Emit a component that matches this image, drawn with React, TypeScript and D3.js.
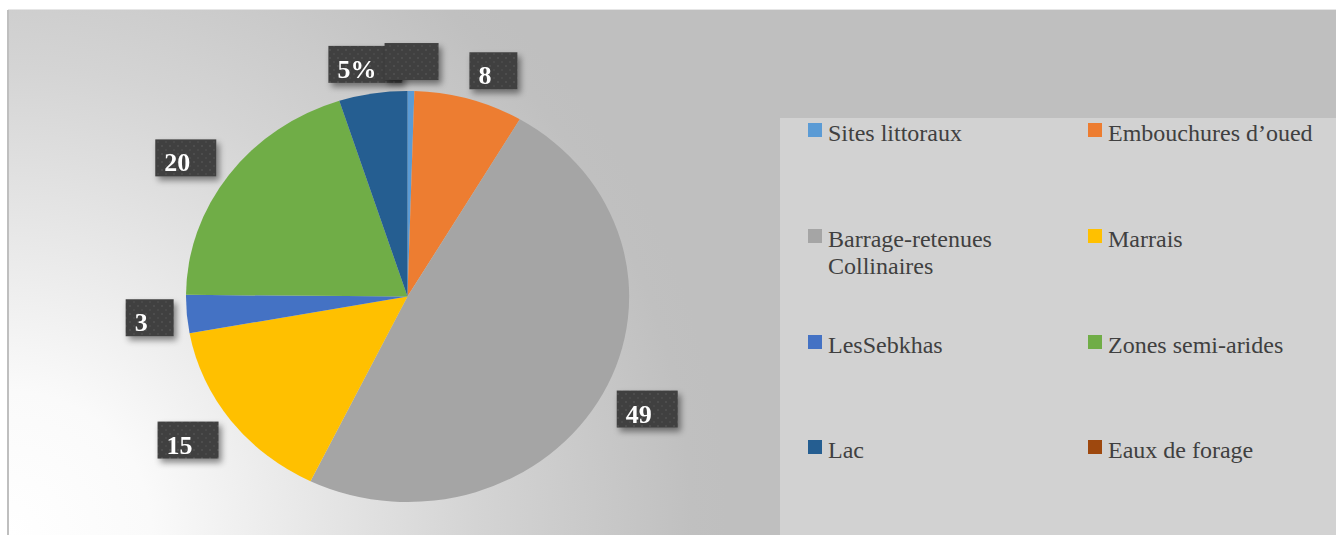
import React from "react";
import * as d3 from "d3";

const categories = [
  "Sites littoraux",
  "Embouchures d\u2019oued",
  "Barrage-retenues Collinaires",
  "Marrais",
  "LesSebkhas",
  "Zones semi-arides",
  "Lac",
  "Eaux de forage",
];
const values = [0.5, 8, 49, 15, 3, 20, 5, 0];
const labels = ["", "8", "49", "15", "3", "20", "5%", null];
const colors = ["#5B9BD5", "#ED7D31", "#A5A5A5", "#FFC000", "#4472C4", "#70AD47", "#255E91", "#9E480E"];
const legendLines = [
  ["Sites littoraux"],
  ["Embouchures d\u2019oued"],
  ["Barrage-retenues", "Collinaires"],
  ["Marrais"],
  ["LesSebkhas"],
  ["Zones semi-arides"],
  ["Lac"],
  ["Eaux de forage"],
];

const W = 1336;
const H = 535;
const cx = 407.5;
const cy = 296.5;
const rx = 221.5;
const ry = 205.5;
const SERIF = '"Liberation Serif", Tinos, "DejaVu Serif", serif';
const LABEL_FONT = 'bold 26px "Liberation Serif", Tinos, "DejaVu Serif", serif';

function measure(t: string) {
  if (typeof document === "undefined") return t.length * 13;
  const c = document.createElement("canvas").getContext("2d");
  if (!c) return t.length * 13;
  c.font = LABEL_FONT;
  return c.measureText(t).width;
}

export default function App() {
  const data = categories.map((c, i) => ({ c, v: values[i], i }));
  const pie = d3.pie<any>().sort(null).value((d: any) => d.v);
  const arcs = pie(data);
  const arc = d3.arc<any>().innerRadius(0).outerRadius(1);

  const boxH = 37;
  type Box = { x: number; y: number; w: number; t: string; i: number };
  const boxes: Box[] = [];
  arcs.forEach((a, i) => {
    const t = labels[i];
    if (t === null) return;
    const mid = (a.startAngle + a.endAngle) / 2;
    const s = Math.sin(mid);
    const c = Math.cos(mid);
    const ex = cx + rx * s;
    const ey = cy - ry * c;
    const gap = 12;
    const px = ex + s * gap;
    const py = ey - c * gap;
    const w = t === "" ? 54 : measure(t) + 35;
    const extra = Math.abs(s) < 0.2 ? 0 : 15 * Math.abs(c) * Math.sign(s);
    const bx = px + s * (w / 2) + extra - w / 2;
    const by = py - c * (boxH / 2) - boxH / 2 + 1;
    boxes.push({ x: bx, y: by, w, t, i });
  });
  const drawOrder = [...boxes].reverse();

  const colX = [808, 1088];
  const rowY = [141, 247, 353, 458];

  return (
    <div style={{ position: "absolute", left: 0, top: 0 }}>
      <svg width={W} height={H} style={{ display: "block", fontFamily: SERIF }}>
        <defs>
          <radialGradient id="bg" gradientUnits="userSpaceOnUse" cx={8} cy={535} r={720}>
            <stop offset="0" stopColor="#ffffff" />
            <stop offset="0.2" stopColor="#fafafa" />
            <stop offset="0.4" stopColor="#e9e9e9" />
            <stop offset="0.65" stopColor="#d4d4d4" />
            <stop offset="0.95" stopColor="#c0c0c0" />
            <stop offset="1" stopColor="#bfbfbf" />
          </radialGradient>
          <pattern id="dots" width="8" height="8" patternUnits="userSpaceOnUse">
            <rect width="8" height="8" fill="#3f3f3f" />
            <circle cx="2" cy="2" r="1.2" fill="#4d4d4d" />
            <circle cx="6" cy="6" r="1.2" fill="#4a4a4a" />
          </pattern>
          <filter id="shadow" x="-30%" y="-30%" width="160%" height="170%">
            <feDropShadow dx="3" dy="4" stdDeviation="3" floodColor="#000" floodOpacity="0.45" />
          </filter>
        </defs>
        <rect x={0} y={0} width={W} height={H} fill="#ffffff" />
        <rect x={8} y={10} width={W - 8} height={H - 10} fill="url(#bg)" />
        <line x1={8} y1={10} x2={8} y2={H} stroke="#bfbfbf" strokeWidth={2} />
        <line x1={8} y1={9.5} x2={W} y2={9.5} stroke="#e6e6e6" strokeWidth={1} />

        <g transform={`translate(${cx},${cy}) scale(${rx},${ry})`}>
          {arcs.map((a, i) => (
            <path key={i} d={arc(a) || ""} fill={colors[i]} />
          ))}
        </g>

        {drawOrder.map((b) => (
          <g key={b.i} filter="url(#shadow)">
            <rect x={b.x} y={b.y} width={b.w} height={boxH} fill="url(#dots)" />
            {b.t !== "" && (
              <text
                x={b.x + 9}
                y={b.y + 32}
                fill="#ffffff"
                style={{ fontFamily: SERIF, fontSize: 26, fontWeight: "bold" }}
              >
                {b.t}
              </text>
            )}
          </g>
        ))}

        <rect x={780} y={118} width={W - 780} height={H - 118} fill="#d2d2d2" />
        {categories.map((c, i) => {
          const col = i % 2;
          const row = Math.floor(i / 2);
          const x = colX[col];
          const y = rowY[row];
          return (
            <g key={c}>
              <rect x={x} y={y - 18} width={14} height={14} fill={colors[i]} />
              {legendLines[i].map((ln, k) => (
                <text
                  key={k}
                  x={x + 20}
                  y={y + k * 27}
                  fill="#404040"
                  style={{ fontFamily: SERIF, fontSize: 24 }}
                >
                  {ln}
                </text>
              ))}
            </g>
          );
        })}
      </svg>
    </div>
  );
}
